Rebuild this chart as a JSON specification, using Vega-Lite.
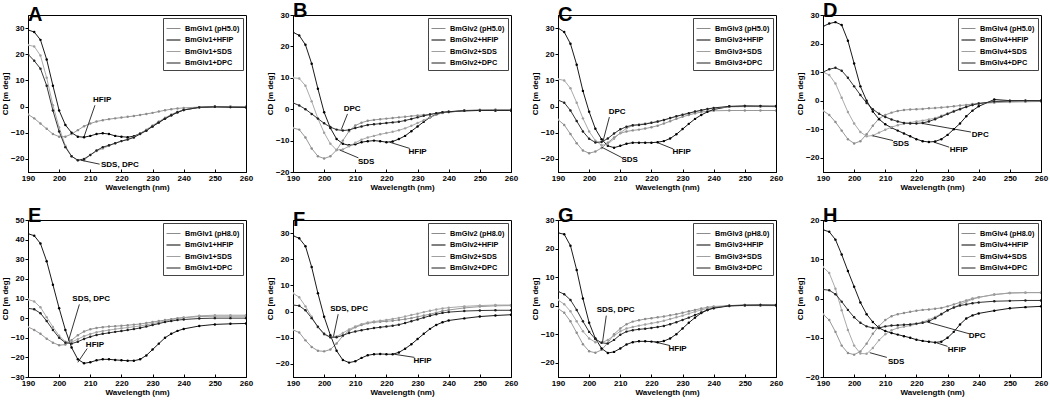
{
"$schema": "https://vega.github.io/schema/vega-lite/v6.json",
"background": "white",
"padding": {"left": 0, "top": 0, "right": 0, "bottom": 0},
"config": {
 "font": "Liberation Sans",
 "view": {"stroke": "#000", "strokeWidth": 1},
 "axis": {"labelFontSize": 8, "labelFontWeight": "bold", "titleFontSize": 8, "titleFontWeight": "bold", "labelPadding": 1, "titlePadding": 1, "grid": false, "domainColor": "#000", "tickColor": "#000", "labelColor": "#000", "titleColor": "#000", "labelFlush": false, "labelOverlap": false, "labelBound": false},
 "axisX": {"tickSize": -3, "labelPadding": 5},
 "axisY": {"tickSize": 3},
 "legend": {"orient": "top-right", "offset": 3, "padding": 3, "strokeColor": "#444", "fillColor": "white", "labelFontSize": 7.3, "labelFontWeight": "bold", "labelColor": "#000", "rowPadding": 0.5, "symbolType": "stroke", "symbolSize": 196, "symbolStrokeWidth": 1, "labelLimit": 120},
 "title": {"fontSize": 20, "fontWeight": "bold", "anchor": "start", "frame": "group", "offset": -10, "color": "#000"}
},
"datasets": {
"cd": [
{"p":"A","w":190,"pH":-3,"HFIP":29.3,"SDS":23.5,"DPC":20},
{"p":"A","w":192,"pH":-4.5,"HFIP":28.5,"SDS":23,"DPC":17.5},
{"p":"A","w":194,"pH":-6.5,"HFIP":25.5,"SDS":19.5,"DPC":14.5},
{"p":"A","w":196,"pH":-8.5,"HFIP":18,"SDS":11,"DPC":8},
{"p":"A","w":198,"pH":-10.5,"HFIP":8,"SDS":0.5,"DPC":-1.5},
{"p":"A","w":200,"pH":-11.5,"HFIP":-1.5,"SDS":-8,"DPC":-9.5},
{"p":"A","w":202,"pH":-11.5,"HFIP":-7,"SDS":-15,"DPC":-15.5},
{"p":"A","w":204,"pH":-10.5,"HFIP":-10,"SDS":-19,"DPC":-19},
{"p":"A","w":206,"pH":-9,"HFIP":-11.5,"SDS":-20.5,"DPC":-20.5},
{"p":"A","w":208,"pH":-7.5,"HFIP":-11.7,"SDS":-20.5,"DPC":-20},
{"p":"A","w":210,"pH":-6.5,"HFIP":-11.2,"SDS":-18.5,"DPC":-18.5},
{"p":"A","w":212,"pH":-5.7,"HFIP":-10.5,"SDS":-17,"DPC":-16.8},
{"p":"A","w":214,"pH":-5.2,"HFIP":-10.2,"SDS":-16,"DPC":-15.5},
{"p":"A","w":216,"pH":-4.8,"HFIP":-10.5,"SDS":-15,"DPC":-14.8},
{"p":"A","w":218,"pH":-4.5,"HFIP":-11.2,"SDS":-14,"DPC":-14},
{"p":"A","w":220,"pH":-4.2,"HFIP":-11.5,"SDS":-13.2,"DPC":-13.2},
{"p":"A","w":222,"pH":-3.9,"HFIP":-11.7,"SDS":-12.5,"DPC":-12.6},
{"p":"A","w":224,"pH":-3.6,"HFIP":-11.3,"SDS":-11.6,"DPC":-11.8},
{"p":"A","w":226,"pH":-3.2,"HFIP":-10.3,"SDS":-10.3,"DPC":-10.5},
{"p":"A","w":228,"pH":-2.8,"HFIP":-9,"SDS":-8.8,"DPC":-9.2},
{"p":"A","w":230,"pH":-2.4,"HFIP":-7.5,"SDS":-7.2,"DPC":-7.6},
{"p":"A","w":232,"pH":-1.9,"HFIP":-6,"SDS":-5.7,"DPC":-6.1},
{"p":"A","w":234,"pH":-1.4,"HFIP":-4.6,"SDS":-4.3,"DPC":-4.6},
{"p":"A","w":236,"pH":-1,"HFIP":-3.3,"SDS":-3,"DPC":-3.3},
{"p":"A","w":238,"pH":-0.7,"HFIP":-2.2,"SDS":-2,"DPC":-2.2},
{"p":"A","w":240,"pH":-0.5,"HFIP":-1.3,"SDS":-1.2,"DPC":-1.3},
{"p":"A","w":245,"pH":-0.2,"HFIP":-0.3,"SDS":-0.3,"DPC":-0.3},
{"p":"A","w":250,"pH":0,"HFIP":-0.1,"SDS":0,"DPC":-0.1},
{"p":"A","w":255,"pH":0,"HFIP":-0.2,"SDS":0,"DPC":-0.2},
{"p":"A","w":260,"pH":0,"HFIP":-0.3,"SDS":-0.1,"DPC":-0.3},
{"p":"B","w":190,"pH":-6,"HFIP":24.5,"SDS":10,"DPC":2},
{"p":"B","w":192,"pH":-6.5,"HFIP":23.5,"SDS":9.8,"DPC":1.2},
{"p":"B","w":194,"pH":-9,"HFIP":20.5,"SDS":7.5,"DPC":0},
{"p":"B","w":196,"pH":-12.5,"HFIP":14.5,"SDS":2.5,"DPC":-1.5},
{"p":"B","w":198,"pH":-15,"HFIP":6.5,"SDS":-3,"DPC":-3},
{"p":"B","w":200,"pH":-15.7,"HFIP":-1,"SDS":-7.5,"DPC":-4.5},
{"p":"B","w":202,"pH":-15,"HFIP":-6,"SDS":-11,"DPC":-5.7},
{"p":"B","w":204,"pH":-13,"HFIP":-9.5,"SDS":-13,"DPC":-6.5},
{"p":"B","w":206,"pH":-10,"HFIP":-11,"SDS":-12.8,"DPC":-6.8},
{"p":"B","w":208,"pH":-7,"HFIP":-11.5,"SDS":-11.8,"DPC":-6.6},
{"p":"B","w":210,"pH":-5.2,"HFIP":-11.2,"SDS":-10.7,"DPC":-6},
{"p":"B","w":212,"pH":-4.3,"HFIP":-10.5,"SDS":-9.7,"DPC":-5.5},
{"p":"B","w":214,"pH":-3.7,"HFIP":-10.2,"SDS":-9,"DPC":-5},
{"p":"B","w":216,"pH":-3.4,"HFIP":-10,"SDS":-8.5,"DPC":-4.8},
{"p":"B","w":218,"pH":-3.2,"HFIP":-10.2,"SDS":-8,"DPC":-4.6},
{"p":"B","w":220,"pH":-3,"HFIP":-10.5,"SDS":-7.6,"DPC":-4.4},
{"p":"B","w":222,"pH":-2.8,"HFIP":-10.3,"SDS":-7.2,"DPC":-4.2},
{"p":"B","w":224,"pH":-2.6,"HFIP":-9.5,"SDS":-6.7,"DPC":-4},
{"p":"B","w":226,"pH":-2.4,"HFIP":-8.5,"SDS":-6.1,"DPC":-3.6},
{"p":"B","w":228,"pH":-2.2,"HFIP":-7,"SDS":-5.3,"DPC":-3.1},
{"p":"B","w":230,"pH":-2,"HFIP":-5.5,"SDS":-4.4,"DPC":-2.6},
{"p":"B","w":232,"pH":-1.8,"HFIP":-4,"SDS":-3.5,"DPC":-2.1},
{"p":"B","w":234,"pH":-1.6,"HFIP":-2.6,"SDS":-2.6,"DPC":-1.7},
{"p":"B","w":236,"pH":-1.3,"HFIP":-1.6,"SDS":-1.8,"DPC":-1.3},
{"p":"B","w":238,"pH":-1,"HFIP":-1.1,"SDS":-1.2,"DPC":-1},
{"p":"B","w":240,"pH":-0.8,"HFIP":-0.9,"SDS":-0.9,"DPC":-0.8},
{"p":"B","w":245,"pH":-0.4,"HFIP":-0.5,"SDS":-0.5,"DPC":-0.5},
{"p":"B","w":250,"pH":-0.2,"HFIP":-0.4,"SDS":-0.3,"DPC":-0.4},
{"p":"B","w":255,"pH":-0.1,"HFIP":-0.4,"SDS":-0.3,"DPC":-0.4},
{"p":"B","w":260,"pH":-0.1,"HFIP":-0.4,"SDS":-0.3,"DPC":-0.4},
{"p":"C","w":190,"pH":-5,"HFIP":30,"SDS":10.5,"DPC":2.5},
{"p":"C","w":192,"pH":-7,"HFIP":28.5,"SDS":10,"DPC":1.5},
{"p":"C","w":194,"pH":-10.5,"HFIP":24,"SDS":7,"DPC":-1.5},
{"p":"C","w":196,"pH":-14,"HFIP":16,"SDS":1.5,"DPC":-5.5},
{"p":"C","w":198,"pH":-16.8,"HFIP":6,"SDS":-4.5,"DPC":-9.5},
{"p":"C","w":200,"pH":-17.8,"HFIP":-2,"SDS":-9.5,"DPC":-12.3},
{"p":"C","w":202,"pH":-17.2,"HFIP":-8.5,"SDS":-13,"DPC":-13.7},
{"p":"C","w":204,"pH":-15.8,"HFIP":-12.5,"SDS":-14.8,"DPC":-13.5},
{"p":"C","w":206,"pH":-13.8,"HFIP":-15,"SDS":-14.3,"DPC":-12.2},
{"p":"C","w":208,"pH":-11.8,"HFIP":-15.7,"SDS":-12.3,"DPC":-10.3},
{"p":"C","w":210,"pH":-10.2,"HFIP":-15,"SDS":-10,"DPC":-8.7},
{"p":"C","w":212,"pH":-9.5,"HFIP":-14.2,"SDS":-8.3,"DPC":-7.7},
{"p":"C","w":214,"pH":-9.1,"HFIP":-13.8,"SDS":-7.3,"DPC":-7.1},
{"p":"C","w":216,"pH":-8.8,"HFIP":-13.8,"SDS":-6.8,"DPC":-7},
{"p":"C","w":218,"pH":-8.4,"HFIP":-13.8,"SDS":-6.5,"DPC":-6.7},
{"p":"C","w":220,"pH":-7.9,"HFIP":-13.8,"SDS":-6.2,"DPC":-6.2},
{"p":"C","w":222,"pH":-7.3,"HFIP":-13.6,"SDS":-5.8,"DPC":-5.7},
{"p":"C","w":224,"pH":-6.5,"HFIP":-13.2,"SDS":-5.2,"DPC":-5.1},
{"p":"C","w":226,"pH":-5.6,"HFIP":-12.2,"SDS":-4.5,"DPC":-4.4},
{"p":"C","w":228,"pH":-4.7,"HFIP":-10.6,"SDS":-3.8,"DPC":-3.7},
{"p":"C","w":230,"pH":-3.9,"HFIP":-8.6,"SDS":-3.2,"DPC":-3.1},
{"p":"C","w":232,"pH":-3.2,"HFIP":-6.6,"SDS":-2.6,"DPC":-2.5},
{"p":"C","w":234,"pH":-2.6,"HFIP":-4.7,"SDS":-2,"DPC":-1.9},
{"p":"C","w":236,"pH":-2.1,"HFIP":-3.2,"SDS":-1.5,"DPC":-1.4},
{"p":"C","w":238,"pH":-1.8,"HFIP":-2,"SDS":-1,"DPC":-0.9},
{"p":"C","w":240,"pH":-1.6,"HFIP":-1.1,"SDS":-0.6,"DPC":-0.5},
{"p":"C","w":245,"pH":-1.5,"HFIP":0,"SDS":-0.1,"DPC":0.1},
{"p":"C","w":250,"pH":-1.5,"HFIP":0.2,"SDS":0,"DPC":0.2},
{"p":"C","w":255,"pH":-1.5,"HFIP":0.1,"SDS":0,"DPC":0.2},
{"p":"C","w":260,"pH":-1.5,"HFIP":0,"SDS":0,"DPC":0.2},
{"p":"D","w":190,"pH":-3.5,"HFIP":26,"SDS":10,"DPC":10},
{"p":"D","w":192,"pH":-5,"HFIP":27,"SDS":9,"DPC":11},
{"p":"D","w":194,"pH":-7.5,"HFIP":27.5,"SDS":6,"DPC":11.5},
{"p":"D","w":196,"pH":-10.5,"HFIP":26.5,"SDS":1,"DPC":10.5},
{"p":"D","w":198,"pH":-13.5,"HFIP":21,"SDS":-4,"DPC":8},
{"p":"D","w":200,"pH":-15,"HFIP":13,"SDS":-8,"DPC":5},
{"p":"D","w":202,"pH":-14.2,"HFIP":5,"SDS":-11,"DPC":2},
{"p":"D","w":204,"pH":-11.8,"HFIP":0,"SDS":-12.5,"DPC":-0.8},
{"p":"D","w":206,"pH":-8.8,"HFIP":-3.8,"SDS":-12.2,"DPC":-3},
{"p":"D","w":208,"pH":-6.3,"HFIP":-6.5,"SDS":-11.2,"DPC":-4.6},
{"p":"D","w":210,"pH":-5,"HFIP":-8.3,"SDS":-10.2,"DPC":-5.7},
{"p":"D","w":212,"pH":-4.2,"HFIP":-9.5,"SDS":-9.3,"DPC":-6.6},
{"p":"D","w":214,"pH":-3.6,"HFIP":-10.5,"SDS":-8.6,"DPC":-7.3},
{"p":"D","w":216,"pH":-3.3,"HFIP":-11.5,"SDS":-8.1,"DPC":-7.8},
{"p":"D","w":218,"pH":-3.1,"HFIP":-12.5,"SDS":-7.7,"DPC":-8},
{"p":"D","w":220,"pH":-3,"HFIP":-13.5,"SDS":-7.3,"DPC":-8},
{"p":"D","w":222,"pH":-2.9,"HFIP":-14.2,"SDS":-7,"DPC":-7.8},
{"p":"D","w":224,"pH":-2.7,"HFIP":-14.5,"SDS":-6.6,"DPC":-7.3},
{"p":"D","w":226,"pH":-2.6,"HFIP":-14.3,"SDS":-6.1,"DPC":-6.5},
{"p":"D","w":228,"pH":-2.4,"HFIP":-13.5,"SDS":-5.3,"DPC":-5.6},
{"p":"D","w":230,"pH":-2.2,"HFIP":-12,"SDS":-4.5,"DPC":-4.7},
{"p":"D","w":232,"pH":-2,"HFIP":-10,"SDS":-3.6,"DPC":-3.8},
{"p":"D","w":234,"pH":-1.7,"HFIP":-8,"SDS":-2.8,"DPC":-3},
{"p":"D","w":236,"pH":-1.5,"HFIP":-5.5,"SDS":-2.1,"DPC":-2.2},
{"p":"D","w":238,"pH":-1.2,"HFIP":-3.5,"SDS":-1.5,"DPC":-1.5},
{"p":"D","w":240,"pH":-1,"HFIP":-2,"SDS":-1,"DPC":-1},
{"p":"D","w":245,"pH":-0.7,"HFIP":0.4,"SDS":-0.4,"DPC":-0.3},
{"p":"D","w":250,"pH":-0.5,"HFIP":0,"SDS":-0.2,"DPC":-0.1},
{"p":"D","w":255,"pH":-0.4,"HFIP":0,"SDS":-0.1,"DPC":0},
{"p":"D","w":260,"pH":-0.3,"HFIP":0,"SDS":0,"DPC":0},
{"p":"E","w":190,"pH":-4.5,"HFIP":43,"SDS":9.5,"DPC":5},
{"p":"E","w":192,"pH":-6,"HFIP":42,"SDS":8.5,"DPC":4.5},
{"p":"E","w":194,"pH":-8,"HFIP":38,"SDS":5.5,"DPC":2.5},
{"p":"E","w":196,"pH":-10.5,"HFIP":29,"SDS":0.5,"DPC":-1.5},
{"p":"E","w":198,"pH":-12.5,"HFIP":17,"SDS":-4.5,"DPC":-6},
{"p":"E","w":200,"pH":-13.8,"HFIP":5,"SDS":-9,"DPC":-10},
{"p":"E","w":202,"pH":-13.5,"HFIP":-6,"SDS":-12,"DPC":-12.5},
{"p":"E","w":204,"pH":-11.2,"HFIP":-15,"SDS":-12.2,"DPC":-13},
{"p":"E","w":206,"pH":-8.7,"HFIP":-21,"SDS":-10.7,"DPC":-12},
{"p":"E","w":208,"pH":-6.8,"HFIP":-23,"SDS":-9.2,"DPC":-10.6},
{"p":"E","w":210,"pH":-5.7,"HFIP":-22.5,"SDS":-8.1,"DPC":-9.5},
{"p":"E","w":212,"pH":-5,"HFIP":-21.5,"SDS":-7.2,"DPC":-8.6},
{"p":"E","w":214,"pH":-4.6,"HFIP":-21,"SDS":-6.6,"DPC":-8},
{"p":"E","w":216,"pH":-4.3,"HFIP":-21,"SDS":-6.1,"DPC":-7.5},
{"p":"E","w":218,"pH":-4.1,"HFIP":-21.3,"SDS":-5.6,"DPC":-7},
{"p":"E","w":220,"pH":-3.9,"HFIP":-21.5,"SDS":-5.2,"DPC":-6.6},
{"p":"E","w":222,"pH":-3.6,"HFIP":-21.7,"SDS":-4.8,"DPC":-6.1},
{"p":"E","w":224,"pH":-3.3,"HFIP":-21.7,"SDS":-4.4,"DPC":-5.6},
{"p":"E","w":226,"pH":-3,"HFIP":-21,"SDS":-4,"DPC":-5},
{"p":"E","w":228,"pH":-2.5,"HFIP":-19,"SDS":-3.4,"DPC":-4.3},
{"p":"E","w":230,"pH":-2,"HFIP":-16,"SDS":-2.8,"DPC":-3.5},
{"p":"E","w":232,"pH":-1.5,"HFIP":-13,"SDS":-2.2,"DPC":-2.8},
{"p":"E","w":234,"pH":-1,"HFIP":-10,"SDS":-1.5,"DPC":-2},
{"p":"E","w":236,"pH":-0.5,"HFIP":-8,"SDS":-0.9,"DPC":-1.5},
{"p":"E","w":238,"pH":0,"HFIP":-6.5,"SDS":-0.3,"DPC":-1},
{"p":"E","w":240,"pH":0.3,"HFIP":-5.5,"SDS":0.2,"DPC":-0.7},
{"p":"E","w":245,"pH":0.8,"HFIP":-4,"SDS":1.2,"DPC":-0.2},
{"p":"E","w":250,"pH":1,"HFIP":-3.2,"SDS":1.5,"DPC":0},
{"p":"E","w":255,"pH":1,"HFIP":-2.9,"SDS":1.5,"DPC":0},
{"p":"E","w":260,"pH":1,"HFIP":-2.7,"SDS":1.5,"DPC":0},
{"p":"F","w":190,"pH":-7,"HFIP":29,"SDS":7,"DPC":2.5},
{"p":"F","w":192,"pH":-8,"HFIP":28,"SDS":5.5,"DPC":2.2},
{"p":"F","w":194,"pH":-11,"HFIP":25,"SDS":2,"DPC":0.5},
{"p":"F","w":196,"pH":-13.5,"HFIP":17,"SDS":-2,"DPC":-2.5},
{"p":"F","w":198,"pH":-15,"HFIP":7,"SDS":-6,"DPC":-5.8},
{"p":"F","w":200,"pH":-15.2,"HFIP":-2,"SDS":-8.8,"DPC":-8.5},
{"p":"F","w":202,"pH":-14.5,"HFIP":-9,"SDS":-9.8,"DPC":-9.8},
{"p":"F","w":204,"pH":-12.2,"HFIP":-15,"SDS":-9.5,"DPC":-9.8},
{"p":"F","w":206,"pH":-9.3,"HFIP":-18.5,"SDS":-8.2,"DPC":-9.1},
{"p":"F","w":208,"pH":-7.3,"HFIP":-19.5,"SDS":-6.8,"DPC":-8.2},
{"p":"F","w":210,"pH":-6,"HFIP":-19,"SDS":-5.7,"DPC":-7.6},
{"p":"F","w":212,"pH":-5.1,"HFIP":-17.7,"SDS":-4.8,"DPC":-7.1},
{"p":"F","w":214,"pH":-4.5,"HFIP":-16.7,"SDS":-4.2,"DPC":-6.7},
{"p":"F","w":216,"pH":-4.1,"HFIP":-16.3,"SDS":-3.8,"DPC":-6.3},
{"p":"F","w":218,"pH":-3.9,"HFIP":-16.2,"SDS":-3.5,"DPC":-6},
{"p":"F","w":220,"pH":-3.7,"HFIP":-16.3,"SDS":-3.2,"DPC":-5.7},
{"p":"F","w":222,"pH":-3.5,"HFIP":-16.3,"SDS":-2.8,"DPC":-5.4},
{"p":"F","w":224,"pH":-3.2,"HFIP":-15.6,"SDS":-2.4,"DPC":-5},
{"p":"F","w":226,"pH":-2.9,"HFIP":-14.2,"SDS":-1.9,"DPC":-4.4},
{"p":"F","w":228,"pH":-2.5,"HFIP":-12.5,"SDS":-1.3,"DPC":-3.7},
{"p":"F","w":230,"pH":-2,"HFIP":-10.5,"SDS":-0.8,"DPC":-3},
{"p":"F","w":232,"pH":-1.5,"HFIP":-8.5,"SDS":-0.2,"DPC":-2.3},
{"p":"F","w":234,"pH":-1,"HFIP":-6.6,"SDS":0.3,"DPC":-1.6},
{"p":"F","w":236,"pH":-0.4,"HFIP":-5.1,"SDS":0.8,"DPC":-1},
{"p":"F","w":238,"pH":0.2,"HFIP":-4.1,"SDS":1.2,"DPC":-0.5},
{"p":"F","w":240,"pH":0.6,"HFIP":-3.4,"SDS":1.5,"DPC":-0.2},
{"p":"F","w":245,"pH":1.4,"HFIP":-2.6,"SDS":2,"DPC":0.2},
{"p":"F","w":250,"pH":1.9,"HFIP":-1.9,"SDS":2.3,"DPC":0.4},
{"p":"F","w":255,"pH":2.2,"HFIP":-1.5,"SDS":2.5,"DPC":0.5},
{"p":"F","w":260,"pH":2.3,"HFIP":-1.2,"SDS":2.5,"DPC":0.5},
{"p":"G","w":190,"pH":-1,"HFIP":25.5,"SDS":2,"DPC":5},
{"p":"G","w":192,"pH":-2.5,"HFIP":25,"SDS":0.5,"DPC":4},
{"p":"G","w":194,"pH":-5.5,"HFIP":21,"SDS":-2,"DPC":2},
{"p":"G","w":196,"pH":-9.5,"HFIP":12.5,"SDS":-5.5,"DPC":-1.5},
{"p":"G","w":198,"pH":-13.5,"HFIP":2.5,"SDS":-9,"DPC":-5.5},
{"p":"G","w":200,"pH":-16,"HFIP":-6,"SDS":-11.5,"DPC":-9.2},
{"p":"G","w":202,"pH":-16.5,"HFIP":-11.5,"SDS":-12.8,"DPC":-11.7},
{"p":"G","w":204,"pH":-15.5,"HFIP":-15,"SDS":-13,"DPC":-13},
{"p":"G","w":206,"pH":-13,"HFIP":-16.6,"SDS":-12,"DPC":-13.3},
{"p":"G","w":208,"pH":-10,"HFIP":-16.2,"SDS":-10.5,"DPC":-12},
{"p":"G","w":210,"pH":-8,"HFIP":-15,"SDS":-9,"DPC":-10.2},
{"p":"G","w":212,"pH":-6.5,"HFIP":-13.6,"SDS":-8,"DPC":-9.1},
{"p":"G","w":214,"pH":-5.6,"HFIP":-12.8,"SDS":-7.5,"DPC":-8.6},
{"p":"G","w":216,"pH":-5.1,"HFIP":-12.5,"SDS":-7,"DPC":-8.3},
{"p":"G","w":218,"pH":-4.7,"HFIP":-12.5,"SDS":-6.6,"DPC":-8.1},
{"p":"G","w":220,"pH":-4.4,"HFIP":-12.6,"SDS":-6.2,"DPC":-7.8},
{"p":"G","w":222,"pH":-4.1,"HFIP":-12.8,"SDS":-5.8,"DPC":-7.5},
{"p":"G","w":224,"pH":-3.8,"HFIP":-12.4,"SDS":-5.3,"DPC":-7.1},
{"p":"G","w":226,"pH":-3.4,"HFIP":-11.5,"SDS":-4.7,"DPC":-6.5},
{"p":"G","w":228,"pH":-3,"HFIP":-10,"SDS":-4.1,"DPC":-5.8},
{"p":"G","w":230,"pH":-2.5,"HFIP":-8,"SDS":-3.5,"DPC":-5},
{"p":"G","w":232,"pH":-2,"HFIP":-6,"SDS":-2.8,"DPC":-4.2},
{"p":"G","w":234,"pH":-1.5,"HFIP":-4.2,"SDS":-2.1,"DPC":-3.3},
{"p":"G","w":236,"pH":-1,"HFIP":-2.6,"SDS":-1.5,"DPC":-2.4},
{"p":"G","w":238,"pH":-0.6,"HFIP":-1.5,"SDS":-1,"DPC":-1.5},
{"p":"G","w":240,"pH":-0.3,"HFIP":-0.8,"SDS":-0.6,"DPC":-0.9},
{"p":"G","w":245,"pH":0,"HFIP":0,"SDS":-0.1,"DPC":-0.1},
{"p":"G","w":250,"pH":0,"HFIP":0.2,"SDS":0.1,"DPC":0.1},
{"p":"G","w":255,"pH":0,"HFIP":0.2,"SDS":0.2,"DPC":0.2},
{"p":"G","w":260,"pH":0,"HFIP":0.1,"SDS":0.2,"DPC":0.2},
{"p":"H","w":190,"pH":-4,"HFIP":17.5,"SDS":8,"DPC":2.3},
{"p":"H","w":192,"pH":-5.5,"HFIP":17,"SDS":6.5,"DPC":2.1},
{"p":"H","w":194,"pH":-8.5,"HFIP":15,"SDS":2.5,"DPC":1.1},
{"p":"H","w":196,"pH":-12,"HFIP":11.2,"SDS":-3,"DPC":-0.8},
{"p":"H","w":198,"pH":-13.9,"HFIP":7,"SDS":-8,"DPC":-2.9},
{"p":"H","w":200,"pH":-14.3,"HFIP":3,"SDS":-12,"DPC":-4.8},
{"p":"H","w":202,"pH":-13.5,"HFIP":-1,"SDS":-14,"DPC":-6.2},
{"p":"H","w":204,"pH":-11.5,"HFIP":-4,"SDS":-14.1,"DPC":-7.1},
{"p":"H","w":206,"pH":-9,"HFIP":-6,"SDS":-12.6,"DPC":-7.5},
{"p":"H","w":208,"pH":-7,"HFIP":-7.5,"SDS":-10.6,"DPC":-7.5},
{"p":"H","w":210,"pH":-5.5,"HFIP":-8.3,"SDS":-9.1,"DPC":-7.1},
{"p":"H","w":212,"pH":-4.5,"HFIP":-8.8,"SDS":-8.1,"DPC":-6.9},
{"p":"H","w":214,"pH":-4,"HFIP":-9.2,"SDS":-7.5,"DPC":-6.8},
{"p":"H","w":216,"pH":-3.7,"HFIP":-9.6,"SDS":-7.2,"DPC":-6.7},
{"p":"H","w":218,"pH":-3.4,"HFIP":-10,"SDS":-6.9,"DPC":-6.6},
{"p":"H","w":220,"pH":-3.1,"HFIP":-10.5,"SDS":-6.5,"DPC":-6.4},
{"p":"H","w":222,"pH":-2.9,"HFIP":-10.8,"SDS":-6,"DPC":-6.2},
{"p":"H","w":224,"pH":-2.8,"HFIP":-11,"SDS":-5.4,"DPC":-5.8},
{"p":"H","w":226,"pH":-2.6,"HFIP":-11.2,"SDS":-4.7,"DPC":-5},
{"p":"H","w":228,"pH":-2.4,"HFIP":-11,"SDS":-3.9,"DPC":-4},
{"p":"H","w":230,"pH":-2,"HFIP":-10,"SDS":-3.1,"DPC":-3},
{"p":"H","w":232,"pH":-1.5,"HFIP":-8.5,"SDS":-2.3,"DPC":-2.3},
{"p":"H","w":234,"pH":-1,"HFIP":-6.6,"SDS":-1.5,"DPC":-1.8},
{"p":"H","w":236,"pH":-0.5,"HFIP":-5.1,"SDS":-0.8,"DPC":-1.5},
{"p":"H","w":238,"pH":0,"HFIP":-4.3,"SDS":-0.2,"DPC":-1.2},
{"p":"H","w":240,"pH":0.3,"HFIP":-3.8,"SDS":0.3,"DPC":-1},
{"p":"H","w":245,"pH":1,"HFIP":-3.1,"SDS":1,"DPC":-0.7},
{"p":"H","w":250,"pH":1.4,"HFIP":-2.5,"SDS":1.4,"DPC":-0.6},
{"p":"H","w":255,"pH":1.5,"HFIP":-2.2,"SDS":1.5,"DPC":-0.5},
{"p":"H","w":260,"pH":1.5,"HFIP":-2,"SDS":1.5,"DPC":-0.5}
],
"ann": [
{"p":"A","t":"HFIP","tx":213.8,"ty":2.5,"lx":211.5,"ly":0.5,"ax":208,"ay":-11.5},
{"p":"A","t":"SDS, DPC","tx":219.5,"ty":-22.5,"lx":213,"ly":-22,"ax":207,"ay":-20.5},
{"p":"B","t":"DPC","tx":209,"ty":0,"lx":207.5,"ly":-1.5,"ax":205.5,"ay":-6.5},
{"p":"B","t":"SDS","tx":213.5,"ty":-16.8,"lx":211,"ly":-15.5,"ax":205,"ay":-13},
{"p":"B","t":"HFIP","tx":230,"ty":-13.6,"lx":227.5,"ly":-12.5,"ax":221,"ay":-10.5},
{"p":"C","t":"DPC","tx":209,"ty":-1.9,"lx":206.5,"ly":-4,"ax":204.5,"ay":-13},
{"p":"C","t":"SDS","tx":213,"ty":-20.6,"lx":210.5,"ly":-19.5,"ax":204,"ay":-15.5},
{"p":"C","t":"HFIP","tx":229.7,"ty":-17.5,"lx":227,"ly":-16.2,"ax":222,"ay":-13.8},
{"p":"D","t":"SDS","tx":215,"ty":-15.1,"lx":212.5,"ly":-14,"ax":206,"ay":-12.3},
{"p":"D","t":"DPC","tx":240.5,"ty":-12.2,"lx":237.5,"ly":-11,"ax":222,"ay":-8},
{"p":"D","t":"HFIP","tx":233.6,"ty":-17.4,"lx":230.5,"ly":-16.3,"ax":225.5,"ay":-14.5},
{"p":"E","t":"SDS, DPC","tx":210.3,"ty":9.9,"lx":206.5,"ly":7,"ax":203,"ay":-11.5},
{"p":"E","t":"HFIP","tx":211.5,"ty":-13.8,"lx":209,"ly":-15.5,"ax":206,"ay":-22.5},
{"p":"F","t":"SDS, DPC","tx":208,"ty":1.1,"lx":204.5,"ly":-1,"ax":203,"ay":-9.5},
{"p":"F","t":"HFIP","tx":231.6,"ty":-19,"lx":229,"ly":-17.5,"ax":222.5,"ay":-16.3},
{"p":"G","t":"SDS, DPC","tx":208.5,"ty":-1.6,"lx":205.5,"ly":-3.5,"ax":204.3,"ay":-12.8},
{"p":"G","t":"HFIP","tx":228.4,"ty":-15.2,"lx":226,"ly":-14,"ax":221,"ay":-12.7},
{"p":"H","t":"SDS","tx":213.5,"ty":-16.2,"lx":210.5,"ly":-15,"ax":205,"ay":-13.8},
{"p":"H","t":"DPC","tx":239.5,"ty":-9.6,"lx":237,"ly":-9,"ax":223.5,"ay":-6},
{"p":"H","t":"HFIP","tx":233,"ty":-13,"lx":230,"ly":-12.2,"ax":226.5,"ay":-11.3}
]
},
"columns": 4,
"spacing": {"row": 13, "column": 11},
"concat": [
{"title": "A", "width": 218, "height": 157, "layer": [
 {"data": {"name": "cd"}, "transform": [{"filter": "datum.p==='A'"}, {"fold": ["pH","HFIP","SDS","DPC"], "as": ["s","cd"]}],
  "mark": {"type": "line", "strokeWidth": 0.9, "clip": true, "point": {"size": 6, "filled": true}},
  "encoding": {"x": {"field": "w", "type": "quantitative", "scale": {"domain": [190,260]}, "axis": {"values": [190,200,210,220,230,240,250,260], "tickCount": 30, "labelOverlap": false}, "title": "Wavelength (nm)"},
   "y": {"field": "cd", "type": "quantitative", "scale": {"domain": [-25,35]}, "axis": {"values": [-20,-10,0,10,20,30], "tickCount": 30, "labelOverlap": false}, "title": "CD [m deg]"},
   "color": {"field": "s", "type": "nominal", "sort": ["pH","HFIP","SDS","DPC"], "scale": {"domain": ["pH","HFIP","SDS","DPC"], "range": ["#8c8c8c","#000000","#a0a0a0","#1e1e1e"]}, "title": null, "legend": {"labelExpr": "datum.value==='pH' ? 'BmGlv1 (pH5.0)' : 'BmGlv1+' + datum.value"}}}},
 {"data": {"name": "ann"}, "transform": [{"filter": "datum.p==='A'"}], "mark": {"type": "rule", "color": "#000", "strokeWidth": 0.8},
  "encoding": {"x": {"field": "lx", "type": "quantitative", "title": "Wavelength (nm)"}, "y": {"field": "ly", "type": "quantitative", "title": "CD [m deg]"}, "x2": {"field": "ax"}, "y2": {"field": "ay"}}},
 {"data": {"name": "ann"}, "transform": [{"filter": "datum.p==='A'"}], "mark": {"type": "text", "fontSize": 8, "fontWeight": "bold", "color": "#000"},
  "encoding": {"x": {"field": "tx", "type": "quantitative", "title": "Wavelength (nm)"}, "y": {"field": "ty", "type": "quantitative", "title": "CD [m deg]"}, "text": {"field": "t"}}}
]},
{"title": "B", "width": 218, "height": 157, "layer": [
 {"data": {"name": "cd"}, "transform": [{"filter": "datum.p==='B'"}, {"fold": ["pH","HFIP","SDS","DPC"], "as": ["s","cd"]}],
  "mark": {"type": "line", "strokeWidth": 0.9, "clip": true, "point": {"size": 6, "filled": true}},
  "encoding": {"x": {"field": "w", "type": "quantitative", "scale": {"domain": [190,260]}, "axis": {"values": [190,200,210,220,230,240,250,260], "tickCount": 30, "labelOverlap": false}, "title": "Wavelength (nm)"},
   "y": {"field": "cd", "type": "quantitative", "scale": {"domain": [-20,30]}, "axis": {"values": [-20,-10,0,10,20,30], "tickCount": 30, "labelOverlap": false}, "title": "CD [m deg]"},
   "color": {"field": "s", "type": "nominal", "sort": ["pH","HFIP","SDS","DPC"], "scale": {"domain": ["pH","HFIP","SDS","DPC"], "range": ["#8c8c8c","#000000","#a0a0a0","#1e1e1e"]}, "title": null, "legend": {"labelExpr": "datum.value==='pH' ? 'BmGlv2 (pH5.0)' : 'BmGlv2+' + datum.value"}}}},
 {"data": {"name": "ann"}, "transform": [{"filter": "datum.p==='B'"}], "mark": {"type": "rule", "color": "#000", "strokeWidth": 0.8},
  "encoding": {"x": {"field": "lx", "type": "quantitative", "title": "Wavelength (nm)"}, "y": {"field": "ly", "type": "quantitative", "title": "CD [m deg]"}, "x2": {"field": "ax"}, "y2": {"field": "ay"}}},
 {"data": {"name": "ann"}, "transform": [{"filter": "datum.p==='B'"}], "mark": {"type": "text", "fontSize": 8, "fontWeight": "bold", "color": "#000"},
  "encoding": {"x": {"field": "tx", "type": "quantitative", "title": "Wavelength (nm)"}, "y": {"field": "ty", "type": "quantitative", "title": "CD [m deg]"}, "text": {"field": "t"}}}
]},
{"title": "C", "width": 218, "height": 157, "layer": [
 {"data": {"name": "cd"}, "transform": [{"filter": "datum.p==='C'"}, {"fold": ["pH","HFIP","SDS","DPC"], "as": ["s","cd"]}],
  "mark": {"type": "line", "strokeWidth": 0.9, "clip": true, "point": {"size": 6, "filled": true}},
  "encoding": {"x": {"field": "w", "type": "quantitative", "scale": {"domain": [190,260]}, "axis": {"values": [190,200,210,220,230,240,250,260], "tickCount": 30, "labelOverlap": false}, "title": "Wavelength (nm)"},
   "y": {"field": "cd", "type": "quantitative", "scale": {"domain": [-25,35]}, "axis": {"values": [-20,-10,0,10,20,30], "tickCount": 30, "labelOverlap": false}, "title": "CD [m deg]"},
   "color": {"field": "s", "type": "nominal", "sort": ["pH","HFIP","SDS","DPC"], "scale": {"domain": ["pH","HFIP","SDS","DPC"], "range": ["#8c8c8c","#000000","#a0a0a0","#1e1e1e"]}, "title": null, "legend": {"labelExpr": "datum.value==='pH' ? 'BmGlv3 (pH5.0)' : 'BmGlv3+' + datum.value"}}}},
 {"data": {"name": "ann"}, "transform": [{"filter": "datum.p==='C'"}], "mark": {"type": "rule", "color": "#000", "strokeWidth": 0.8},
  "encoding": {"x": {"field": "lx", "type": "quantitative", "title": "Wavelength (nm)"}, "y": {"field": "ly", "type": "quantitative", "title": "CD [m deg]"}, "x2": {"field": "ax"}, "y2": {"field": "ay"}}},
 {"data": {"name": "ann"}, "transform": [{"filter": "datum.p==='C'"}], "mark": {"type": "text", "fontSize": 8, "fontWeight": "bold", "color": "#000"},
  "encoding": {"x": {"field": "tx", "type": "quantitative", "title": "Wavelength (nm)"}, "y": {"field": "ty", "type": "quantitative", "title": "CD [m deg]"}, "text": {"field": "t"}}}
]},
{"title": "D", "width": 218, "height": 157, "layer": [
 {"data": {"name": "cd"}, "transform": [{"filter": "datum.p==='D'"}, {"fold": ["pH","HFIP","SDS","DPC"], "as": ["s","cd"]}],
  "mark": {"type": "line", "strokeWidth": 0.9, "clip": true, "point": {"size": 6, "filled": true}},
  "encoding": {"x": {"field": "w", "type": "quantitative", "scale": {"domain": [190,260]}, "axis": {"values": [190,200,210,220,230,240,250,260], "tickCount": 30, "labelOverlap": false}, "title": "Wavelength (nm)"},
   "y": {"field": "cd", "type": "quantitative", "scale": {"domain": [-25,30]}, "axis": {"values": [-20,-10,0,10,20,30], "tickCount": 30, "labelOverlap": false}, "title": "CD [m deg]"},
   "color": {"field": "s", "type": "nominal", "sort": ["pH","HFIP","SDS","DPC"], "scale": {"domain": ["pH","HFIP","SDS","DPC"], "range": ["#8c8c8c","#000000","#a0a0a0","#1e1e1e"]}, "title": null, "legend": {"labelExpr": "datum.value==='pH' ? 'BmGlv4 (pH5.0)' : 'BmGlv4+' + datum.value"}}}},
 {"data": {"name": "ann"}, "transform": [{"filter": "datum.p==='D'"}], "mark": {"type": "rule", "color": "#000", "strokeWidth": 0.8},
  "encoding": {"x": {"field": "lx", "type": "quantitative", "title": "Wavelength (nm)"}, "y": {"field": "ly", "type": "quantitative", "title": "CD [m deg]"}, "x2": {"field": "ax"}, "y2": {"field": "ay"}}},
 {"data": {"name": "ann"}, "transform": [{"filter": "datum.p==='D'"}], "mark": {"type": "text", "fontSize": 8, "fontWeight": "bold", "color": "#000"},
  "encoding": {"x": {"field": "tx", "type": "quantitative", "title": "Wavelength (nm)"}, "y": {"field": "ty", "type": "quantitative", "title": "CD [m deg]"}, "text": {"field": "t"}}}
]},
{"title": "E", "width": 218, "height": 157, "layer": [
 {"data": {"name": "cd"}, "transform": [{"filter": "datum.p==='E'"}, {"fold": ["pH","HFIP","SDS","DPC"], "as": ["s","cd"]}],
  "mark": {"type": "line", "strokeWidth": 0.9, "clip": true, "point": {"size": 6, "filled": true}},
  "encoding": {"x": {"field": "w", "type": "quantitative", "scale": {"domain": [190,260]}, "axis": {"values": [190,200,210,220,230,240,250,260], "tickCount": 30, "labelOverlap": false}, "title": "Wavelength (nm)"},
   "y": {"field": "cd", "type": "quantitative", "scale": {"domain": [-30,50]}, "axis": {"values": [-30,-20,-10,0,10,20,30,40,50], "tickCount": 30, "labelOverlap": false}, "title": "CD [m deg]"},
   "color": {"field": "s", "type": "nominal", "sort": ["pH","HFIP","SDS","DPC"], "scale": {"domain": ["pH","HFIP","SDS","DPC"], "range": ["#8c8c8c","#000000","#a0a0a0","#1e1e1e"]}, "title": null, "legend": {"labelExpr": "datum.value==='pH' ? 'BmGlv1 (pH8.0)' : 'BmGlv1+' + datum.value"}}}},
 {"data": {"name": "ann"}, "transform": [{"filter": "datum.p==='E'"}], "mark": {"type": "rule", "color": "#000", "strokeWidth": 0.8},
  "encoding": {"x": {"field": "lx", "type": "quantitative", "title": "Wavelength (nm)"}, "y": {"field": "ly", "type": "quantitative", "title": "CD [m deg]"}, "x2": {"field": "ax"}, "y2": {"field": "ay"}}},
 {"data": {"name": "ann"}, "transform": [{"filter": "datum.p==='E'"}], "mark": {"type": "text", "fontSize": 8, "fontWeight": "bold", "color": "#000"},
  "encoding": {"x": {"field": "tx", "type": "quantitative", "title": "Wavelength (nm)"}, "y": {"field": "ty", "type": "quantitative", "title": "CD [m deg]"}, "text": {"field": "t"}}}
]},
{"title": "F", "width": 218, "height": 157, "layer": [
 {"data": {"name": "cd"}, "transform": [{"filter": "datum.p==='F'"}, {"fold": ["pH","HFIP","SDS","DPC"], "as": ["s","cd"]}],
  "mark": {"type": "line", "strokeWidth": 0.9, "clip": true, "point": {"size": 6, "filled": true}},
  "encoding": {"x": {"field": "w", "type": "quantitative", "scale": {"domain": [190,260]}, "axis": {"values": [190,200,210,220,230,240,250,260], "tickCount": 30, "labelOverlap": false}, "title": "Wavelength (nm)"},
   "y": {"field": "cd", "type": "quantitative", "scale": {"domain": [-25,35]}, "axis": {"values": [-20,-10,0,10,20,30], "tickCount": 30, "labelOverlap": false}, "title": "CD [m deg]"},
   "color": {"field": "s", "type": "nominal", "sort": ["pH","HFIP","SDS","DPC"], "scale": {"domain": ["pH","HFIP","SDS","DPC"], "range": ["#8c8c8c","#000000","#a0a0a0","#1e1e1e"]}, "title": null, "legend": {"labelExpr": "datum.value==='pH' ? 'BmGlv2 (pH8.0)' : 'BmGlv2+' + datum.value"}}}},
 {"data": {"name": "ann"}, "transform": [{"filter": "datum.p==='F'"}], "mark": {"type": "rule", "color": "#000", "strokeWidth": 0.8},
  "encoding": {"x": {"field": "lx", "type": "quantitative", "title": "Wavelength (nm)"}, "y": {"field": "ly", "type": "quantitative", "title": "CD [m deg]"}, "x2": {"field": "ax"}, "y2": {"field": "ay"}}},
 {"data": {"name": "ann"}, "transform": [{"filter": "datum.p==='F'"}], "mark": {"type": "text", "fontSize": 8, "fontWeight": "bold", "color": "#000"},
  "encoding": {"x": {"field": "tx", "type": "quantitative", "title": "Wavelength (nm)"}, "y": {"field": "ty", "type": "quantitative", "title": "CD [m deg]"}, "text": {"field": "t"}}}
]},
{"title": "G", "width": 218, "height": 157, "layer": [
 {"data": {"name": "cd"}, "transform": [{"filter": "datum.p==='G'"}, {"fold": ["pH","HFIP","SDS","DPC"], "as": ["s","cd"]}],
  "mark": {"type": "line", "strokeWidth": 0.9, "clip": true, "point": {"size": 6, "filled": true}},
  "encoding": {"x": {"field": "w", "type": "quantitative", "scale": {"domain": [190,260]}, "axis": {"values": [190,200,210,220,230,240,250,260], "tickCount": 30, "labelOverlap": false}, "title": "Wavelength (nm)"},
   "y": {"field": "cd", "type": "quantitative", "scale": {"domain": [-25,30]}, "axis": {"values": [-20,-10,0,10,20,30], "tickCount": 30, "labelOverlap": false}, "title": "CD [m deg]"},
   "color": {"field": "s", "type": "nominal", "sort": ["pH","HFIP","SDS","DPC"], "scale": {"domain": ["pH","HFIP","SDS","DPC"], "range": ["#8c8c8c","#000000","#a0a0a0","#1e1e1e"]}, "title": null, "legend": {"labelExpr": "datum.value==='pH' ? 'BmGlv3 (pH8.0)' : 'BmGlv3+' + datum.value"}}}},
 {"data": {"name": "ann"}, "transform": [{"filter": "datum.p==='G'"}], "mark": {"type": "rule", "color": "#000", "strokeWidth": 0.8},
  "encoding": {"x": {"field": "lx", "type": "quantitative", "title": "Wavelength (nm)"}, "y": {"field": "ly", "type": "quantitative", "title": "CD [m deg]"}, "x2": {"field": "ax"}, "y2": {"field": "ay"}}},
 {"data": {"name": "ann"}, "transform": [{"filter": "datum.p==='G'"}], "mark": {"type": "text", "fontSize": 8, "fontWeight": "bold", "color": "#000"},
  "encoding": {"x": {"field": "tx", "type": "quantitative", "title": "Wavelength (nm)"}, "y": {"field": "ty", "type": "quantitative", "title": "CD [m deg]"}, "text": {"field": "t"}}}
]},
{"title": "H", "width": 218, "height": 157, "layer": [
 {"data": {"name": "cd"}, "transform": [{"filter": "datum.p==='H'"}, {"fold": ["pH","HFIP","SDS","DPC"], "as": ["s","cd"]}],
  "mark": {"type": "line", "strokeWidth": 0.9, "clip": true, "point": {"size": 6, "filled": true}},
  "encoding": {"x": {"field": "w", "type": "quantitative", "scale": {"domain": [190,260]}, "axis": {"values": [190,200,210,220,230,240,250,260], "tickCount": 30, "labelOverlap": false}, "title": "Wavelength (nm)"},
   "y": {"field": "cd", "type": "quantitative", "scale": {"domain": [-20,20]}, "axis": {"values": [-20,-10,0,10,20], "tickCount": 30, "labelOverlap": false}, "title": "CD [m deg]"},
   "color": {"field": "s", "type": "nominal", "sort": ["pH","HFIP","SDS","DPC"], "scale": {"domain": ["pH","HFIP","SDS","DPC"], "range": ["#8c8c8c","#000000","#a0a0a0","#1e1e1e"]}, "title": null, "legend": {"labelExpr": "datum.value==='pH' ? 'BmGlv4 (pH8.0)' : 'BmGlv4+' + datum.value"}}}},
 {"data": {"name": "ann"}, "transform": [{"filter": "datum.p==='H'"}], "mark": {"type": "rule", "color": "#000", "strokeWidth": 0.8},
  "encoding": {"x": {"field": "lx", "type": "quantitative", "title": "Wavelength (nm)"}, "y": {"field": "ly", "type": "quantitative", "title": "CD [m deg]"}, "x2": {"field": "ax"}, "y2": {"field": "ay"}}},
 {"data": {"name": "ann"}, "transform": [{"filter": "datum.p==='H'"}], "mark": {"type": "text", "fontSize": 8, "fontWeight": "bold", "color": "#000"},
  "encoding": {"x": {"field": "tx", "type": "quantitative", "title": "Wavelength (nm)"}, "y": {"field": "ty", "type": "quantitative", "title": "CD [m deg]"}, "text": {"field": "t"}}}
]}
],
"resolve": {"scale": {"color": "independent"}, "legend": {"color": "independent"}}
}
